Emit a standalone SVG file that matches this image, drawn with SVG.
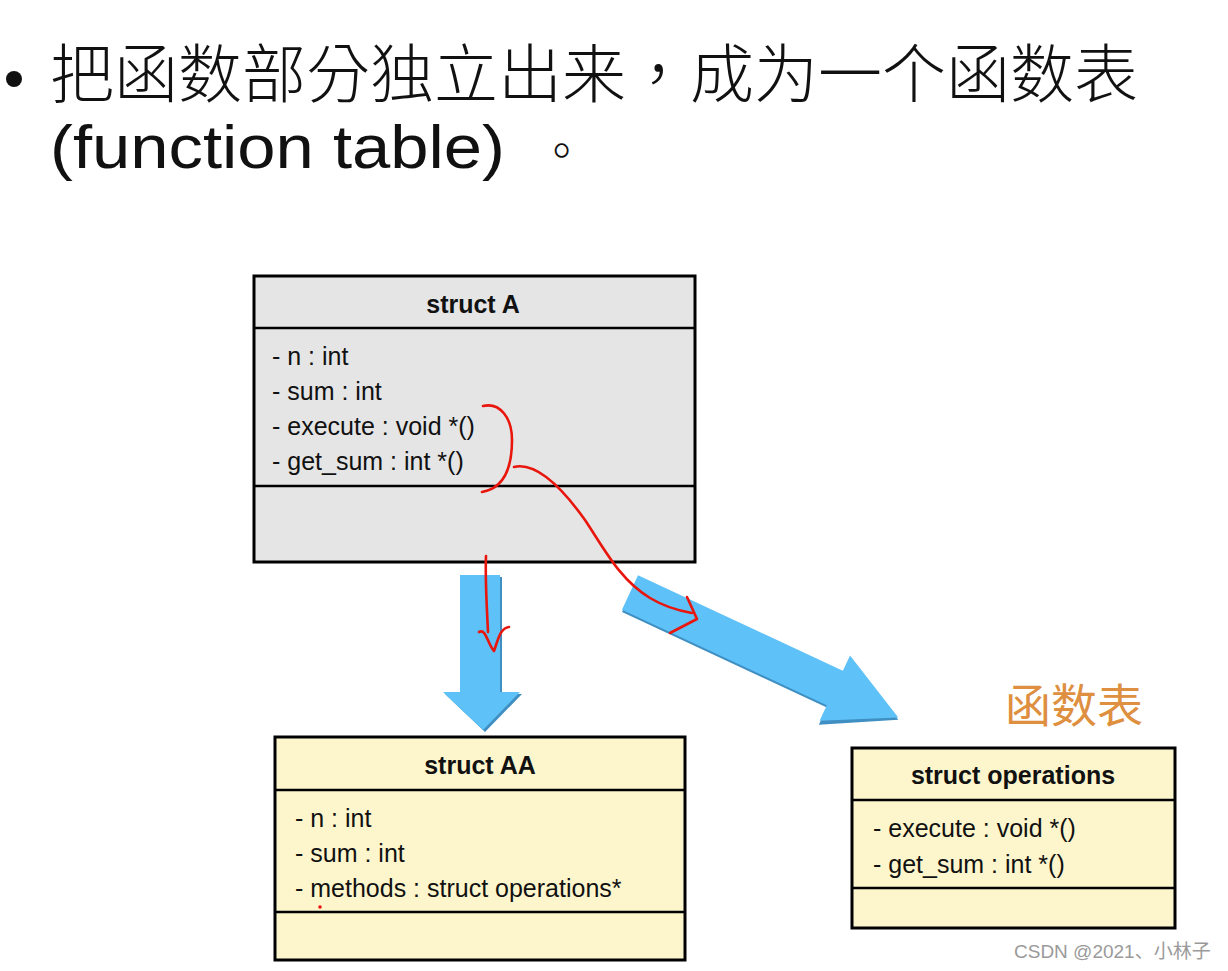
<svg xmlns="http://www.w3.org/2000/svg" width="1228" height="971" viewBox="0 0 1228 971">
  <style>
    .box { stroke: #000; stroke-width: 3; }
    .gray { fill: #e5e5e5; }
    .yel { fill: #fdf6cd; }
    .div { stroke: #000; stroke-width: 2.5; }
    .ttl { font-family: "Liberation Sans", Arial, sans-serif; font-weight: bold; font-size: 25px; fill: #111; text-anchor: middle; }
    .att { font-family: "Liberation Sans", Arial, sans-serif; font-size: 25px; fill: #111; }
    .head { font-family: "Noto Sans CJK TC", "Noto Sans CJK SC", sans-serif; font-size: 64px; fill: #111; font-weight: 300; }
    .blue { fill: #5ec1f7; }
    .shade { fill: #3f8fc2; }
    .red { fill: none; stroke: #e8160c; stroke-width: 2.6; stroke-linecap: round; stroke-linejoin: round; }
  </style>

  <rect width="1228" height="971" fill="#fff"/>

  <g id="heading">
    <circle cx="14" cy="79" r="8" fill="#111"/>
    <text class="head" x="50" y="97">把函数部分独立出来，成为一个函数表</text>
    <text x="50" y="168" font-family="Liberation Sans, Arial, sans-serif" font-size="62" fill="#111" textLength="455" lengthAdjust="spacingAndGlyphs">(function table)</text>
    <text class="head" x="538" y="168" style="font-size:47px">。</text>
  </g>

  <g id="struct-A">
    <rect class="box gray" x="254" y="276" width="441" height="286"/>
    <line class="div" x1="254" y1="328" x2="695" y2="328"/>
    <line class="div" x1="254" y1="486" x2="695" y2="486"/>
    <text class="ttl" x="473" y="313">struct A</text>
    <text class="att" x="272" y="365">- n : int</text>
    <text class="att" x="272" y="400">- sum : int</text>
    <text class="att" x="272" y="435">- execute : void *()</text>
    <text class="att" x="272" y="470">- get_sum : int *()</text>
  </g>

  <g id="struct-AA">
    <rect class="box yel" x="275" y="737" width="410" height="223"/>
    <line class="div" x1="275" y1="790" x2="685" y2="790"/>
    <line class="div" x1="275" y1="912" x2="685" y2="912"/>
    <text class="ttl" x="480" y="774">struct AA</text>
    <text class="att" x="295" y="827">- n : int</text>
    <text class="att" x="295" y="862">- sum : int</text>
    <text class="att" x="295" y="897">- methods : struct operations*</text>
  </g>

  <g id="struct-operations">
    <text x="1005" y="722" font-family="Noto Sans CJK TC, Noto Sans CJK SC, sans-serif" font-size="46" fill="#de8f40">函数表</text>
    <rect class="box yel" x="852" y="748" width="323" height="180"/>
    <line class="div" x1="852" y1="800" x2="1175" y2="800"/>
    <line class="div" x1="852" y1="888" x2="1175" y2="888"/>
    <text class="ttl" x="1013" y="784">struct operations</text>
    <text class="att" x="873" y="837">- execute : void *()</text>
    <text class="att" x="873" y="873">- get_sum : int *()</text>
  </g>

  <g id="connectors">
    <polygon class="shade" points="462,577 502,577 502,694 522,694 485,732 445,694 462,694"/>
    <polygon class="blue" points="460,575 500,575 500,692 520,692 483,730 443,692 460,692"/>
    <g transform="translate(630,592.5) rotate(25)">
      <polygon class="shade" points="1,-17 227,-17 227,-34 297,2 227,40 227,21 1,21"/>
      <polygon class="blue" points="0,-19 226,-19 226,-36 296,0 226,36 226,19 0,19"/>
    </g>
    <path class="red" d="M483,406 C500,402 512,418 512,440 C512,465 505,488 482,492"/>
    <path class="red" d="M514,467 C535,462 560,485 585,520 C605,550 620,580 650,598 C665,607 680,611 692,613"/>
    <path class="red" d="M687,597 L697,619 L670,633"/>
    <path class="red" d="M486,556 C485,580 487,610 488,632"/>
    <path class="red" d="M479,632 C486,628 488,645 494,651 C498,640 500,628 509,627"/>
    <circle cx="320" cy="907" r="1.8" fill="#e8160c"/>
  </g>

  <text x="1014" y="958" font-family="Liberation Sans, Noto Sans CJK SC, sans-serif" font-size="19" fill="#9a9a9a">CSDN @2021、小林子</text>
</svg>
